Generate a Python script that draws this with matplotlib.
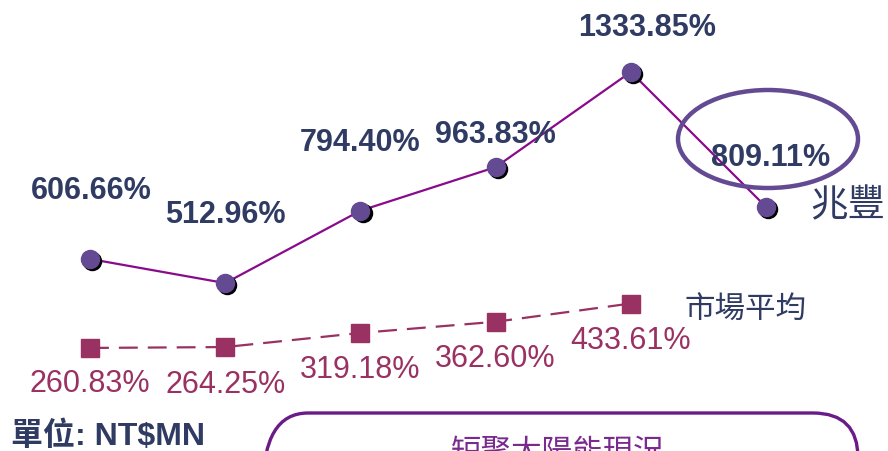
import matplotlib
matplotlib.use('Agg')
import matplotlib.pyplot as plt
from matplotlib.patches import Ellipse, FancyBboxPatch
from matplotlib import transforms

# ---- data -------------------------------------------------------------
PERIODS = [0, 1, 2, 3, 4, 5]
MEGA = [606.66, 512.96, 794.40, 963.83, 1333.85, 809.11]      # 兆豐
MARKET = [260.83, 264.25, 319.18, 362.60, 433.61]             # 市場平均
MEGA_OFFSETS = [(1, 49), (0, 49), (0, 49), (0, 23), (12, 32), (3, 35)]
MARKET_OFFSETS = [(0, -26), (0, -27), (0, -27), (0, -27), (0, -27)]

NAVY = '#2f3b63'
DOT = '#634a92'
LINE = '#8a0a8c'
MKT = '#993162'
LATIN = ['Liberation Sans', 'Noto Sans CJK TC', 'DejaVu Sans']
CJK = ['Noto Sans CJK TC', 'DejaVu Sans']

fig = plt.figure(figsize=(8.88, 4.51), dpi=100)
ax = fig.add_axes([0, 0, 1, 1])
ax.set_xlim(-0.6657, 5.902)
ax.set_ylim(-139.9, 1613.7)
ax.axis('off')

# market average: dashed line with squares
xm = PERIODS[:len(MARKET)]
ax.plot(xm, MARKET, ls=(0, (8.5, 4.5)), lw=1.6, color=MKT, zorder=2)
ax.plot(xm, MARKET, ls='none', marker='s', ms=13, color=MKT, zorder=3)

# Mega: solid line with shadowed dots
ax.plot(PERIODS, MEGA, lw=1.6, color=LINE, zorder=2)
shadow = transforms.offset_copy(ax.transData, fig=fig, x=1.5, y=-1.5, units='points')
ax.plot(PERIODS, MEGA, ls='none', marker='o', ms=13, color='black',
        transform=shadow, zorder=3)
ax.plot(PERIODS, MEGA, ls='none', marker='o', ms=13, color=DOT, zorder=4)

for x, v, off in zip(PERIODS, MEGA, MEGA_OFFSETS):
    ax.annotate(f'{v:.2f}%', (x, v), xytext=off, textcoords='offset points',
                ha='center', va='center', fontsize=22, fontweight='bold',
                color=NAVY, family=LATIN, zorder=6)
for x, v, off in zip(xm, MARKET, MARKET_OFFSETS):
    ax.annotate(f'{v:.2f}%', (x, v), xytext=off, textcoords='offset points',
                ha='center', va='center', fontsize=22, color=MKT,
                family=LATIN, zorder=6)

# decoration layer in pixel units
deco = fig.add_axes([0, 0, 1, 1], zorder=5)
deco.set_xlim(0, 888)
deco.set_ylim(451, 0)
deco.axis('off')
deco.patch.set_alpha(0)

deco.add_patch(Ellipse((768, 139), 180, 98, fill=False, ec=DOT, lw=3.2))
deco.text(848, 206, '兆豐', fontsize=27, color=NAVY, family=CJK,
          ha='center', va='center')
deco.text(745, 310, '市場平均', fontsize=22, color=NAVY, family=CJK,
          ha='center', va='center')
deco.text(11, 437, '單位: NT$MN', fontsize=23, fontweight='bold', color=NAVY,
          family=LATIN, ha='left', va='center')

deco.add_patch(FancyBboxPatch((263, 413), 595, 120,
                              boxstyle='round,pad=0,rounding_size=45',
                              fill=False, ec='#6a1b8a', lw=2.4))
# caption inside the box, cut off by the lower edge as in the original slide
deco.text(558, 453, '短聚太陽能現況', fontsize=22, color='#7a2a8e', family=CJK,
          ha='center', va='center')

fig.savefig('out.png', dpi=100)
